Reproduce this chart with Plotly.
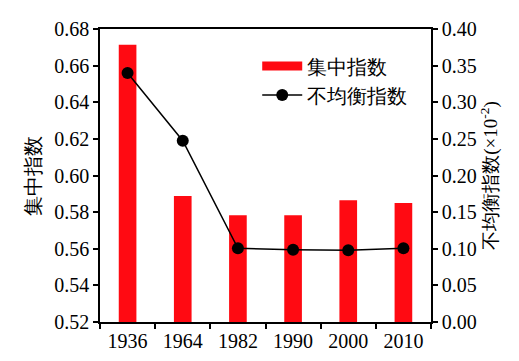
import plotly.graph_objects as go

years = ["1936", "1964", "1982", "1990", "2000", "2010"]
concentration = [0.6714, 0.5888, 0.5783, 0.5783, 0.5865, 0.5850]
imbalance = [0.340, 0.2475, 0.1006, 0.0987, 0.0979, 0.1006]

font_family = "Liberation Serif"
red = "#ff0a12"

fig = go.Figure()
fig.add_trace(go.Bar(
    x=years, y=concentration, name="集中指数",
    marker=dict(color=red, line=dict(width=0)),
    width=0.32, yaxis="y", showlegend=False,
))
# legend proxy for the bars (wide red rectangle)
fig.add_trace(go.Scatter(
    x=[None], y=[None], name="集中指数", mode="lines",
    line=dict(color=red, width=9), yaxis="y",
))
fig.add_trace(go.Scatter(
    x=years, y=imbalance, name="不均衡指数",
    mode="lines+markers",
    line=dict(color="black", width=1.5),
    marker=dict(color="black", size=12),
    yaxis="y2",
))

fig.update_layout(
    width=511, height=353,
    margin=dict(l=92, r=88, t=21, b=39),
    paper_bgcolor="white", plot_bgcolor="white",
    font=dict(family=font_family, size=20, color="black"),
    showlegend=True,
    legend=dict(x=0.475, y=0.94, xanchor="left", yanchor="top",
                bgcolor="rgba(0,0,0,0)", font=dict(size=20),
                tracegroupgap=0, itemwidth=40),
    xaxis=dict(
        type="category", range=[-0.5, 5.5], automargin=False,
        showline=True, linecolor="black", linewidth=1.5, mirror=True,
        ticks="outside", tickson="boundaries", ticklen=5, tickwidth=1.5,
        tickcolor="black", showgrid=False,
    ),
    yaxis=dict(
        range=[0.52, 0.68], dtick=0.02, tickformat=".2f", automargin=False,
        showline=True, linecolor="black", linewidth=1.5,
        ticks="outside", ticklen=5, tickwidth=1.5, tickcolor="black",
        showgrid=False, zeroline=False,
        title=dict(text="集中指数", standoff=8, font=dict(size=20)),
    ),
    yaxis2=dict(
        range=[0, 0.40], dtick=0.05, tickformat=".2f", automargin=False,
        overlaying="y", side="right",
        showline=True, linecolor="black", linewidth=1.5,
        ticks="outside", ticklen=5, tickwidth=1.5, tickcolor="black",
        showgrid=False, zeroline=False,
        title=dict(text="不均衡指数(×10<sup>-2</sup>)", standoff=6, font=dict(size=19)),
    ),
)

fig.write_html("out.html")
